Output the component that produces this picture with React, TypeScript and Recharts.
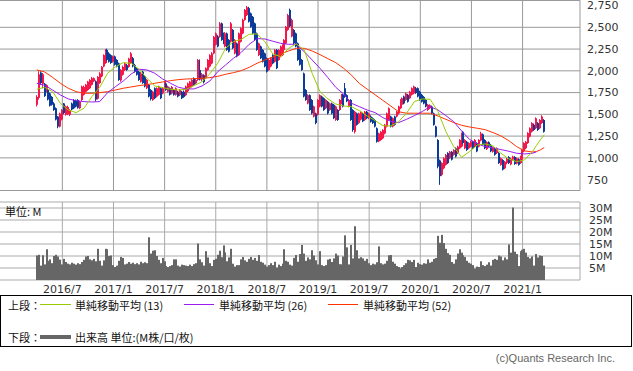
import React from "react";
import { ComposedChart, Bar, Line, XAxis, YAxis, CartesianGrid } from "recharts";

// weekly candles, week 0 = early April 2016
const weekOpen = [
  1610, 1690, 1980, 1850, 1850, 1760, 1780, 1740, 1700, 1625, 1570, 1475, 1360, 1440, 1625, 1495, 1500, 1495, 1625, 1665,
  1660, 1665, 1570, 1665, 1725, 1760, 1780, 1800, 1840, 1880, 1880, 1680, 1860, 1935, 2050, 2090, 2240, 2200, 2180, 2105,
  2165, 2125, 2085, 1890, 1955, 2010, 2065, 2045, 2090, 2145, 2065, 2030, 1990, 1875, 1990, 1935, 1800, 1840, 1780, 1665,
  1800, 1705, 1725, 1800, 1740, 1800, 1855, 1760, 1800, 1740, 1780, 1725, 1760, 1720, 1760, 1760, 1720, 1765, 1800, 1820,
  1915, 1855, 1895, 2010, 1900, 1950, 1915, 2010, 2050, 2085, 2200, 2300, 2395, 2390, 2545, 2430, 2280, 2430, 2355, 2335,
  2470, 2200, 2315, 2180, 2335, 2430, 2585, 2640, 2720, 2660, 2620, 2545, 2430, 2180, 2280, 2240, 2200, 2145, 2010, 2050,
  2180, 2105, 2240, 2125, 2165, 2180, 2240, 2315, 2470, 2700, 2395, 2470, 2430, 2315, 2240, 2125, 1970, 1780, 1625, 1720,
  1665, 1475, 1510, 1495, 1590, 1705, 1685, 1570, 1645, 1550, 1625, 1610, 1435, 1550, 1550, 1625, 1725, 1800, 1720, 1590,
  1665, 1550, 1300, 1510, 1400, 1440, 1510, 1435, 1530, 1455, 1475, 1455, 1435, 1340, 1190, 1205, 1225, 1280, 1360, 1435,
  1475, 1360, 1475, 1475, 1510, 1570, 1610, 1705, 1665, 1725, 1685, 1725, 1740, 1800, 1800, 1760, 1725, 1700, 1665, 1550,
  1570, 1590, 1510, 1360, 1205, 970, 805, 880, 920, 1055, 995, 1070, 1035, 1110, 1055, 1110, 1130, 1300, 1110, 1185,
  1110, 1130, 1185, 1130, 1170, 1130, 1200, 1270, 1205, 1100, 1180, 1150, 1070, 1110, 1055, 1055, 920, 975, 880, 940,
  1010, 925, 980, 1010, 935, 985, 940, 980, 1075, 1110, 1170, 1245, 1300, 1380, 1340, 1400, 1340, 1400, 1435,
];
const weekHigh = [
  1720, 1995, 1995, 1975, 1860, 1845, 1790, 1750, 1710, 1640, 1580, 1480, 1520, 1560, 1630, 1600, 1600, 1560, 1635, 1675,
  1670, 1675, 1655, 1830, 1830, 1850, 1885, 1905, 1930, 1925, 1890, 1940, 1985, 2055, 2190, 2250, 2255, 2215, 2190, 2175,
  2175, 2135, 2095, 2020, 2060, 2095, 2080, 2150, 2215, 2160, 2080, 2040, 2000, 1985, 2000, 1945, 1905, 1850, 1790, 1770,
  1810, 1810, 1830, 1810, 1810, 1880, 1865, 1830, 1810, 1825, 1790, 1810, 1770, 1790, 1770, 1775, 1830, 1865, 1885, 1905,
  1925, 1905, 2135, 2130, 1975, 1960, 2040, 2135, 2190, 2215, 2400, 2440, 2410, 2560, 2555, 2440, 2445, 2440, 2365, 2560,
  2480, 2365, 2325, 2440, 2500, 2600, 2710, 2745, 2735, 2670, 2630, 2555, 2440, 2325, 2290, 2250, 2210, 2155, 2135, 2155,
  2190, 2250, 2250, 2250, 2290, 2305, 2365, 2515, 2655, 2715, 2600, 2480, 2440, 2325, 2250, 2135, 1980, 1790, 1730, 1730,
  1675, 1600, 1520, 1675, 1730, 1715, 1695, 1675, 1655, 1635, 1635, 1620, 1600, 1560, 1675, 1735, 1735, 1860, 1730, 1675,
  1675, 1560, 1540, 1520, 1520, 1540, 1520, 1540, 1540, 1520, 1490, 1465, 1445, 1350, 1290, 1310, 1330, 1390, 1520, 1580,
  1485, 1465, 1485, 1540, 1600, 1675, 1695, 1715, 1750, 1735, 1770, 1810, 1830, 1815, 1810, 1770, 1735, 1710, 1675, 1620,
  1615, 1600, 1520, 1370, 1215, 980, 950, 1005, 1045, 1065, 1080, 1080, 1100, 1120, 1140, 1215, 1290, 1310, 1215, 1195,
  1180, 1195, 1195, 1215, 1180, 1215, 1300, 1280, 1215, 1190, 1190, 1160, 1130, 1120, 1120, 1065, 1005, 985, 965, 1000,
  1020, 1000, 1025, 1020, 1005, 995, 1025, 1100, 1180, 1195, 1295, 1350, 1410, 1395, 1465, 1410, 1445, 1490, 1445,
];
const weekLow = [
  1590, 1670, 1840, 1800, 1700, 1750, 1660, 1590, 1600, 1540, 1430, 1340, 1350, 1430, 1500, 1485, 1490, 1480, 1545, 1560,
  1580, 1565, 1560, 1655, 1715, 1750, 1770, 1790, 1830, 1870, 1650, 1670, 1850, 1925, 2040, 2080, 2110, 2095, 2080, 2095,
  2060, 2040, 1885, 1875, 1945, 2000, 2000, 2035, 2080, 2040, 1980, 1945, 1885, 1865, 1850, 1810, 1790, 1695, 1660, 1655,
  1675, 1695, 1715, 1675, 1730, 1790, 1770, 1750, 1715, 1730, 1715, 1715, 1695, 1710, 1675, 1690, 1710, 1755, 1790, 1810,
  1830, 1845, 1885, 1890, 1880, 1855, 1905, 2000, 2040, 2075, 2190, 2290, 2270, 2380, 2345, 2305, 2270, 2230, 2210, 2325,
  2250, 2190, 2155, 2170, 2325, 2420, 2575, 2630, 2555, 2495, 2420, 2345, 2230, 2170, 2135, 2095, 2040, 1980, 2000, 2040,
  2075, 2095, 2020, 2115, 2155, 2170, 2230, 2305, 2460, 2500, 2385, 2305, 2270, 2115, 2060, 2000, 1695, 1655, 1615, 1540,
  1500, 1465, 1385, 1485, 1580, 1580, 1540, 1560, 1500, 1540, 1500, 1445, 1425, 1425, 1540, 1615, 1580, 1690, 1640, 1580,
  1425, 1300, 1280, 1370, 1390, 1430, 1410, 1425, 1445, 1445, 1405, 1390, 1350, 1175, 1180, 1195, 1215, 1270, 1350, 1425,
  1350, 1350, 1370, 1465, 1500, 1560, 1600, 1615, 1655, 1635, 1675, 1715, 1730, 1735, 1695, 1655, 1635, 1615, 1580, 1540,
  1560, 1500, 1370, 1235, 880, 690, 790, 870, 910, 930, 985, 970, 1025, 1005, 1045, 1100, 1120, 1160, 1100, 1080,
  1100, 1120, 1100, 1120, 1065, 1120, 1190, 1140, 1100, 1090, 1120, 1065, 1060, 1025, 1045, 930, 910, 855, 870, 925,
  930, 915, 970, 920, 925, 910, 930, 970, 1065, 1100, 1160, 1235, 1290, 1310, 1330, 1310, 1330, 1390, 1290,
];
const weekClose = [
  1700, 1960, 1860, 1960, 1710, 1835, 1670, 1600, 1610, 1550, 1440, 1360, 1510, 1550, 1515, 1590, 1585, 1550, 1555, 1570,
  1590, 1575, 1645, 1820, 1815, 1840, 1875, 1895, 1915, 1915, 1670, 1930, 1970, 2045, 2180, 2235, 2125, 2105, 2090, 2165,
  2070, 2050, 1895, 2010, 2045, 2085, 2010, 2140, 2200, 2050, 1990, 1955, 1895, 1970, 1860, 1820, 1895, 1705, 1675, 1760,
  1685, 1800, 1820, 1685, 1800, 1870, 1780, 1820, 1725, 1815, 1725, 1800, 1705, 1780, 1685, 1700, 1820, 1855, 1875, 1895,
  1840, 1895, 2125, 1900, 1960, 1870, 2030, 2125, 2180, 2200, 2390, 2430, 2280, 2545, 2355, 2315, 2430, 2240, 2220, 2545,
  2260, 2355, 2165, 2430, 2490, 2585, 2700, 2730, 2565, 2505, 2430, 2355, 2240, 2315, 2145, 2105, 2050, 1990, 2125, 2145,
  2085, 2240, 2030, 2240, 2280, 2295, 2355, 2505, 2640, 2510, 2585, 2315, 2280, 2125, 2070, 2010, 1705, 1665, 1720, 1550,
  1510, 1590, 1400, 1665, 1720, 1590, 1550, 1665, 1510, 1625, 1510, 1455, 1590, 1435, 1665, 1725, 1590, 1700, 1650, 1665,
  1435, 1320, 1530, 1380, 1510, 1530, 1420, 1530, 1455, 1510, 1415, 1400, 1360, 1185, 1280, 1300, 1320, 1380, 1510, 1570,
  1360, 1455, 1380, 1530, 1590, 1665, 1685, 1625, 1740, 1645, 1760, 1800, 1820, 1745, 1705, 1665, 1645, 1625, 1590, 1610,
  1605, 1510, 1380, 1245, 900, 790, 940, 995, 1035, 940, 1070, 980, 1090, 1015, 1130, 1205, 1280, 1170, 1205, 1090,
  1170, 1185, 1110, 1205, 1075, 1205, 1280, 1150, 1110, 1180, 1130, 1075, 1120, 1035, 1110, 940, 995, 865, 955, 990,
  940, 990, 1015, 930, 995, 920, 1015, 1090, 1170, 1185, 1285, 1340, 1400, 1320, 1455, 1320, 1435, 1475, 1300,
];
// weekly volume, million shares
const volumeM = [
  10.2, 10.5, 6, 10.3, 6.5, 12.8, 8, 8.6, 7, 10, 10.5, 9.8, 8.5, 6.5, 8.8, 7.5, 6.8, 6.5, 7.2, 6.8,
  6.4, 7, 6.6, 7.5, 8.4, 9.8, 10, 8.6, 8.2, 8.8, 7.8, 13, 8, 6, 8.2, 13, 12.8, 10, 10.2, 6.2,
  5.4, 6, 8, 9.6, 9.2, 6.5, 6.8, 7.5, 6.8, 7.2, 6.6, 7, 6.5, 7.6, 7, 7.4, 7, 17.8, 11, 12.2,
  12.4, 10, 8.4, 7, 9.2, 7.8, 5.8, 5.4, 5.8, 6.2, 8.6, 8.6, 6, 5.6, 6.4, 6.2, 6, 5.8, 6.4, 5.8,
  6.6, 7, 15.2, 8.6, 7.4, 6, 12, 9.4, 7, 5.8, 8.4, 8.8, 10.5, 12.2, 9.5, 14.4, 11.5, 7.8, 9.4, 13,
  6.8, 5.6, 6.2, 6.2, 8.6, 9.6, 8.2, 7.6, 8.8, 9.6, 8.4, 9.2, 8, 10.4, 7.6, 7.2, 6.4, 5.6, 6.2, 7,
  6.2, 7.6, 5.2, 6.4, 5.8, 6.8, 12.8, 8, 7.6, 6.4, 6, 9.2, 10.4, 7.6, 10.8, 14.6, 11, 8, 9.4, 8.6,
  12.4, 10.2, 8.2, 6.5, 12, 6.2, 5.8, 6.2, 8.5, 8.8, 7.5, 9, 11, 10.2, 6.6, 6.5, 9.8, 18.6, 13.6, 6.5,
  14.6, 9, 22.4, 12.4, 9, 9.5, 9, 8, 8.8, 7, 6.2, 6.8, 6.5, 7.4, 14, 7, 6.5, 6.8, 8, 10.3,
  10.4, 7.6, 6.8, 5.8, 5.4, 4.8, 5.4, 6.2, 7, 8.4, 8.2, 7.5, 8.4, 5.4, 7.2, 6.6, 6.4, 7, 6.8, 8.6,
  7.2, 7.6, 8.8, 9.2, 18.4, 15.5, 18.8, 15.4, 13, 11.2, 10.5, 7.5, 6.8, 8.6, 11, 12.8, 11.4, 10.3, 9.6, 8,
  7.2, 6.8, 6.2, 4.8, 5.6, 5.4, 7.8, 6.2, 5.8, 6.4, 7.4, 6, 8.4, 8.8, 8.4, 10.2, 9.8, 8.2, 9.4, 8.6,
  14.8, 11.4, 30.2, 11.8, 10.8, 5.8, 12, 12.6, 13, 11.4, 9.6, 9, 9.8, 6, 10.8, 9.4, 10.2, 10, 6,
];

// moving averages read at these weeks
const maWeeks = [
  0, 4, 8, 12, 16, 20, 24, 28, 32, 36, 40, 44, 48, 52, 56, 60, 64, 68, 72, 76, 80, 84, 88, 92, 96, 100,
  104, 108, 112, 116, 120, 124, 128, 132, 136, 140, 144, 148, 152, 156, 160, 164, 168, 172, 176, 180,
  184, 188, 192, 196, 200, 204, 208, 212, 216, 220, 224, 228, 232, 236, 240, 244, 248, 252, 254, 256, 258,
];
const sma13 = [
  1788, 1811, 1761, 1627, 1550, 1520, 1570, 1703, 1811, 1972, 2048, 2094, 2087, 2018, 1914, 1826, 1807, 1788, 1780, 1788,
  1830, 1875, 1965, 2087, 2259, 2335, 2362, 2420, 2424, 2335, 2194, 2163, 2259, 2309, 2240, 1972, 1761, 1677, 1619, 1596,
  1588, 1542, 1481, 1428, 1370, 1366, 1416, 1513, 1646, 1677, 1673, 1532, 1302, 1129, 1006, 1072, 1148, 1160, 1137, 1053,
  988, 957, 976, 1072, 1141, 1206, 1264,
];
const sma26 = [
  1857, 1834, 1780, 1723, 1677, 1657, 1646, 1642, 1646, 1749, 1818, 1883, 1964, 2018, 2010, 1972, 1906, 1857, 1811, 1792,
  1792, 1826, 1883, 1990, 2067, 2144, 2213, 2305, 2370, 2366, 2340, 2316, 2305, 2305, 2220, 2125, 2029, 1922, 1811, 1734,
  1627, 1588, 1550, 1520, 1462, 1420, 1405, 1443, 1485, 1532, 1588, 1550, 1485, 1416, 1309, 1213, 1160, 1129, 1114, 1095,
  1076, 1053, 1045, 1053, 1068, null, null,
];
const sma52 = [
  2010, 1987, 1926, 1857, 1800, 1761, 1742, 1742, 1749, 1761, 1780, 1800, 1815, 1830, 1841, 1857, 1872, 1887, 1899, 1906,
  1910, 1914, 1922, 1937, 1960, 1979, 2002, 2040, 2087, 2125, 2159, 2194, 2228, 2259, 2259, 2228, 2186, 2140, 2094, 2030,
  1950, 1855, 1790, 1725, 1660, 1595, 1530, 1513, 1513, 1513, 1513, 1481, 1443, 1405, 1374, 1355, 1340, 1324, 1290, 1252,
  1198, 1129, 1080, 1068, 1072, 1091, 1118,
];

const tickWeeks = [13, 39, 65, 91, 117, 143, 169, 195, 221, 247];
const tickLabels = ["2016/7", "2017/1", "2017/7", "2018/1", "2018/7", "2019/1", "2019/7", "2020/1", "2020/7", "2021/1"];
const priceTicks = [750, 1000, 1250, 1500, 1750, 2000, 2250, 2500, 2750];
const priceGrid = [1000, 1250, 1500, 1750, 2000, 2250, 2500];
const volumeTicks = [5, 10, 15, 20, 25, 30];

const X_MIN = -18.7;
const X_MAX = 276.2;
const P_MIN = 625;
const P_MAX = 2808;
const V_MAX = 32.5;

const UP = "#f5174a";
const DOWN = "#0c3c99";
const NUM_FONT = "'DejaVu Sans', Verdana, sans-serif";
const JP_FONT = "'Noto Sans CJK JP', sans-serif";

type Row = {
  w: number;
  span: [number, number];
  open: number;
  high: number;
  low: number;
  close: number;
  vol: number;
  sma13: number | null;
  sma26: number | null;
  sma52: number | null;
};

const rows: Row[] = weekClose.map((c, w) => ({
  w,
  span: [weekLow[w], weekHigh[w]],
  open: weekOpen[w],
  high: weekHigh[w],
  low: weekLow[w],
  close: c,
  vol: volumeM[w],
  sma13: null,
  sma26: null,
  sma52: null,
}));
maWeeks.forEach((w, k) => {
  rows[w].sma13 = sma13[k];
  rows[w].sma26 = sma26[k];
  rows[w].sma52 = sma52[k];
});

function Candle(props: any) {
  const { x, y, width, height, payload } = props;
  if (x == null || y == null || !payload) return null;
  const top = Math.min(y, y + height);
  const h = Math.abs(height);
  const range = payload.high - payload.low || 1;
  const toY = (v: number) => top + ((payload.high - v) / range) * h;
  const up = payload.close >= payload.open;
  const left = Math.round(x + width / 2 - 1);
  const bTop = toY(Math.max(payload.open, payload.close));
  const bBot = toY(Math.min(payload.open, payload.close));
  const color = up ? UP : DOWN;
  return (
    <g>
      <rect x={left} y={top} width={1} height={Math.max(h, 1)} fill={color} />
      <rect x={left} y={bTop} width={2} height={Math.max(bBot - bTop, 1)} fill={color} />
    </g>
  );
}

function VolBar(props: any) {
  const { x, y, width, height } = props;
  if (x == null || !height) return null;
  return <rect x={Math.round(x + width / 2 - 1)} y={y} width={2} height={height} fill="#666" />;
}

function Legend() {
  const text = { fontFamily: JP_FONT, fontSize: 11, fill: "#111" } as const;
  return (
    <svg width={633} height={371} style={{ position: "absolute", left: 0, top: 0, pointerEvents: "none" }}>
      <text x={5} y={211} dominantBaseline="central" {...text}>単位: M</text>
      <rect x={0.5} y={295.5} width={631} height={51} fill="none" stroke="#000" />
      <text x={8} y={304.5} dominantBaseline="central" {...text}>上段：</text>
      <line x1={40} x2={71} y1={304.5} y2={304.5} stroke="#99cc00" />
      <text x={75} y={304.5} dominantBaseline="central" {...text}>単純移動平均 (13)</text>
      <line x1={184} x2={214} y1={304.5} y2={304.5} stroke="#9a1cf0" />
      <text x={219} y={304.5} dominantBaseline="central" {...text}>単純移動平均 (26)</text>
      <line x1={328} x2={358} y1={304.5} y2={304.5} stroke="#ff3300" />
      <text x={363} y={304.5} dominantBaseline="central" {...text}>単純移動平均 (52)</text>
      <text x={8} y={337} dominantBaseline="central" {...text}>下段：</text>
      <line x1={40} x2={71} y1={337} y2={337} stroke="#666" strokeWidth={4} />
      <text x={75} y={337} dominantBaseline="central" {...text}>出来高 単位:(M株/口/枚)</text>
      <text x={615} y={358} textAnchor="end" dominantBaseline="central" fontFamily="'Liberation Sans', Arial, sans-serif" fontSize={11} fill="#666">
        (c)Quants Research Inc.
      </text>
    </svg>
  );
}

export default function App() {
  const tickStyle = { fontSize: 11, fill: "#333", fontFamily: NUM_FONT };
  return (
    <div style={{ position: "absolute", left: 0, top: 0, width: 633, height: 371, background: "#fff", overflow: "hidden" }}>
      <div style={{ position: "absolute", left: 0, top: 0 }}>
        <ComposedChart width={633} height={191} data={rows} margin={{ top: 0.5, right: 0, bottom: 0.5, left: 0 }}>
          <CartesianGrid
            stroke="#999"
            horizontalValues={[P_MIN, ...priceGrid, P_MAX]}
            verticalValues={[...tickWeeks, X_MAX]}
          />
          <XAxis dataKey="w" type="number" domain={[X_MIN, X_MAX]} allowDataOverflow hide />
          <YAxis
            orientation="right"
            width={53}
            domain={[P_MIN, P_MAX]}
            allowDataOverflow
            ticks={priceTicks}
            interval={0}
            axisLine={false}
            tickLine={false}
            tickSize={0}
            tickMargin={7}
            tick={tickStyle}
            tickFormatter={(v: number) => v.toLocaleString("en-US")}
          />
          <Bar dataKey="span" barSize={2} shape={<Candle />} isAnimationActive={false} />
          <Line dataKey="sma52" stroke="#ff3300" strokeWidth={1} dot={false} connectNulls isAnimationActive={false} />
          <Line dataKey="sma26" stroke="#9a1cf0" strokeWidth={1} dot={false} connectNulls isAnimationActive={false} />
          <Line dataKey="sma13" stroke="#99cc00" strokeWidth={1} dot={false} connectNulls isAnimationActive={false} />
        </ComposedChart>
      </div>
      <div style={{ position: "absolute", left: 0, top: 195 }}>
        <ComposedChart width={633} height={105} data={rows} margin={{ top: 7, right: 0, bottom: 0, left: 0 }}>
          <CartesianGrid
            stroke="#aaa"
            horizontalValues={[0, ...volumeTicks, V_MAX]}
            verticalValues={[...tickWeeks, X_MAX]}
          />
          <XAxis
            dataKey="w"
            type="number"
            domain={[X_MIN, X_MAX]}
            allowDataOverflow
            ticks={tickWeeks}
            interval={0}
            height={20}
            axisLine={false}
            tickLine={false}
            tickSize={0}
            tickMargin={5}
            tick={tickStyle}
            tickFormatter={(v: number) => tickLabels[tickWeeks.indexOf(v)] ?? ""}
          />
          <YAxis
            orientation="right"
            width={53}
            domain={[0, V_MAX]}
            allowDataOverflow
            ticks={volumeTicks}
            interval={0}
            axisLine={false}
            tickLine={false}
            tickSize={0}
            tickMargin={9}
            tick={tickStyle}
            tickFormatter={(v: number) => `${v}M`}
          />
          <Bar dataKey="vol" barSize={2} shape={<VolBar />} isAnimationActive={false} />
        </ComposedChart>
      </div>
      <Legend />
    </div>
  );
}
